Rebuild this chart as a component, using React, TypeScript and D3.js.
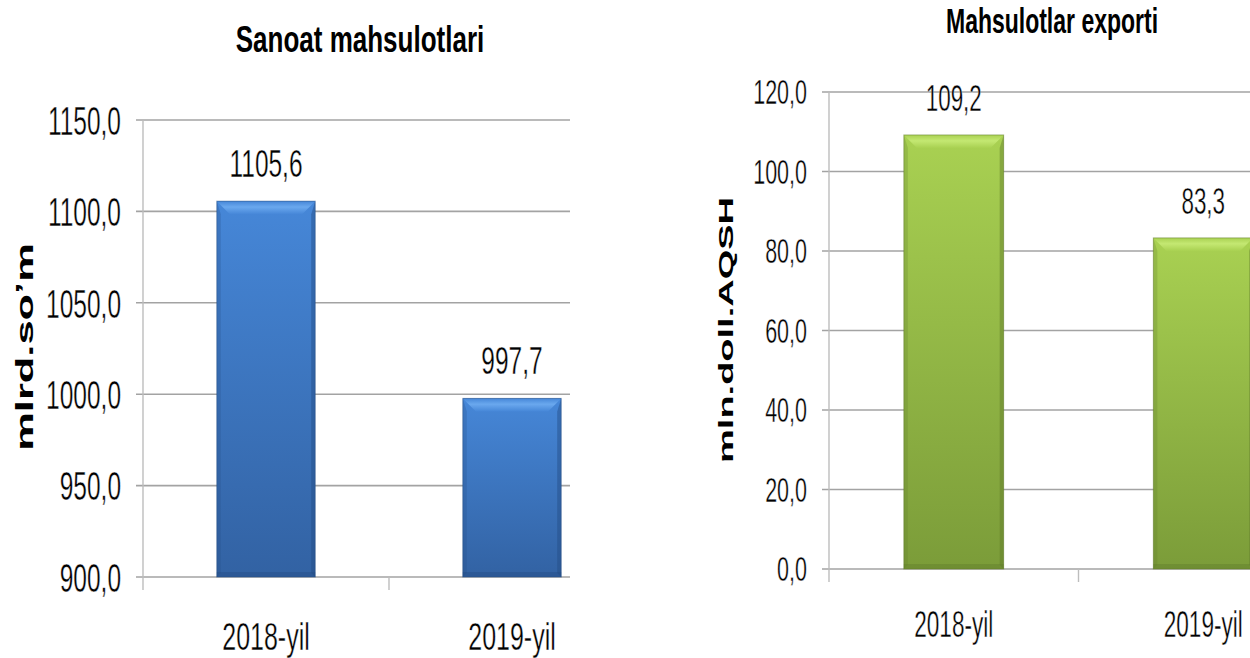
import { useEffect, useRef } from 'react';
import * as d3 from 'd3';

const categories = ['2018-yil', '2019-yil'];

const sanoatValues = [1105.6, 997.7];
const sanoatTicks = [900, 950, 1000, 1050, 1100, 1150];

const exportValues = [109.2, 83.3];
const exportTicks = [0, 20, 40, 60, 80, 100, 120];

const fmt = (v) => d3.format('.1f')(v).replace('.', ',');

// layout for the two panels (text is narrow and tall in the source, so each text gets a y stretch k)
const panels = [
  {
    key: 'sanoat',
    title: 'Sanoat mahsulotlari',
    yLabel: 'mlrd.so’m',
    values: sanoatValues,
    ticks: sanoatTicks,
    left: 143, right: 635, clip: 570, top: 120, bottom: 577,
    titleX: 360, titleY: 52, titleSize: 26, titleK: 1.43,
    yLabelX: 33, yLabelY: 347, yLabelSize: 24, yLabelK: 1.81,
    tickSize: 24.5, tickK: 1.68,
    catSize: 25, catK: 1.55, catY: 650,
    valSize: 24.5, valK: 1.55,
    colors: { hi: '#6aa8ee', top: '#4687d8', bottom: '#3262a3', edge: '#244c82' },
  },
  {
    key: 'export',
    title: 'Mahsulotlar exporti',
    yLabel: 'mln.doll.AQSH',
    values: exportValues,
    ticks: exportTicks,
    left: 829, right: 1328, clip: 1250, top: 92, bottom: 569,
    titleX: 1052, titleY: 33, titleSize: 23, titleK: 1.52,
    yLabelX: 733, yLabelY: 330, yLabelSize: 21, yLabelK: 1.81,
    tickSize: 21.5, tickK: 1.62,
    catSize: 22.6, catK: 1.67, catY: 637,
    valSize: 22.4, valK: 1.68,
    colors: { hi: '#c4e872', top: '#a9d152', bottom: '#7b9c39', edge: '#5f7a2a' },
  },
];

const FONT = "'Liberation Sans', Arial, sans-serif";

const drawText = (g, text, x, y, size, k, anchor = 'middle', weight = 'normal') => {
  const t = g.append('text')
    .attr('transform', `translate(${x},${y}) scale(1,${k})`)
    .attr('text-anchor', anchor)
    .attr('font-family', FONT)
    .attr('font-size', size)
    .attr('font-weight', weight)
    .attr('fill', '#000')
    .text(text);
  // the source uses a narrow, thin face: shave the glyph edges a little
  if (weight === 'normal') t.attr('stroke', '#fff').attr('stroke-width', 0.25);
  return t;
};

const App = () => {
  const svgRef = useRef(null);

  useEffect(() => {
    const svg = d3.select(svgRef.current);
    svg.selectAll('*').remove();
    const defs = svg.append('defs');

    panels.forEach((p) => {
      const x = d3.scaleBand().domain(categories).range([p.left, p.right]).padding(0);
      const y = d3.scaleLinear().domain([p.ticks[0], p.ticks[p.ticks.length - 1]]).range([p.bottom, p.top]);
      const barW = x.bandwidth() * 0.4;
      const base = y(p.ticks[0]);

      const grad = defs.append('linearGradient').attr('id', `bar-${p.key}`)
        .attr('x1', 0).attr('y1', 0).attr('x2', 0).attr('y2', 1);
      grad.append('stop').attr('offset', '0%').attr('stop-color', p.colors.top);
      grad.append('stop').attr('offset', '100%').attr('stop-color', p.colors.bottom);

      const hiGrad = defs.append('linearGradient').attr('id', `hi-${p.key}`)
        .attr('x1', 0).attr('y1', 0).attr('x2', 0).attr('y2', 1);
      hiGrad.append('stop').attr('offset', '0%').attr('stop-color', p.colors.top);
      hiGrad.append('stop').attr('offset', '45%').attr('stop-color', p.colors.hi);
      hiGrad.append('stop').attr('offset', '100%').attr('stop-color', p.colors.top);

      defs.append('clipPath').attr('id', `clip-${p.key}`)
        .append('rect').attr('x', 0).attr('y', 0).attr('width', p.clip).attr('height', 658);

      const g = svg.append('g').attr('clip-path', `url(#clip-${p.key})`);

      // gridlines + y ticks
      g.selectAll('.grid').data(p.ticks).enter().append('line')
        .attr('x1', p.left - 7).attr('x2', p.right)
        .attr('y1', (d) => y(d)).attr('y2', (d) => y(d))
        .attr('stroke', '#a3a3a3').attr('stroke-width', 1.6);

      // y axis line
      g.append('line')
        .attr('x1', p.left).attr('x2', p.left)
        .attr('y1', p.top).attr('y2', base + 13)
        .attr('stroke', '#bdbdbd').attr('stroke-width', 1.4);

      // category separators
      g.selectAll('.ctick').data(categories.slice(1)).enter().append('line')
        .attr('x1', (d) => x(d)).attr('x2', (d) => x(d))
        .attr('y1', base).attr('y2', base + 13)
        .attr('stroke', '#bdbdbd').attr('stroke-width', 1.4);

      // bars
      const bars = g.selectAll('.bar').data(p.values).enter().append('g');
      const bx = (d, i) => x(categories[i]) + (x.bandwidth() - barW) / 2;

      bars.append('rect')
        .attr('x', bx).attr('y', (d) => y(d))
        .attr('width', barW).attr('height', (d) => base - y(d))
        .attr('fill', `url(#bar-${p.key})`);

      const b = 13;
      bars.append('polygon')
        .attr('points', (d, i) => {
          const x0 = bx(d, i), x1 = x0 + barW, y0 = y(d);
          return [[x0, y0], [x1, y0], [x1 - b, y0 + b], [x0 + b, y0 + b]].join(' ');
        })
        .attr('fill', `url(#hi-${p.key})`);

      bars.append('polygon')
        .attr('points', (d, i) => {
          const x0 = bx(d, i), y0 = y(d);
          return [[x0, y0], [x0 + 4, y0 + b], [x0 + 4, base - 4], [x0, base]].join(' ');
        })
        .attr('fill', p.colors.edge).attr('opacity', 0.25);

      bars.append('polygon')
        .attr('points', (d, i) => {
          const x1 = bx(d, i) + barW, y0 = y(d);
          return [[x1, y0], [x1 - 4, y0 + b], [x1 - 4, base - 4], [x1, base]].join(' ');
        })
        .attr('fill', p.colors.edge).attr('opacity', 0.45);

      bars.append('rect')
        .attr('x', bx).attr('y', base - 5)
        .attr('width', barW).attr('height', 5)
        .attr('fill', p.colors.edge).attr('opacity', 0.4);

      bars.append('rect')
        .attr('x', bx).attr('y', (d) => y(d))
        .attr('width', barW).attr('height', (d) => base - y(d))
        .attr('fill', 'none').attr('stroke', p.colors.edge).attr('stroke-opacity', 0.5).attr('stroke-width', 1);

      // tick labels
      p.ticks.forEach((t) => {
        drawText(g, fmt(t), p.left - 22, y(t) + (0.716 * p.tickSize * p.tickK) / 2, p.tickSize, p.tickK, 'end');
      });

      // category labels
      categories.forEach((c) => {
        drawText(g, c, x(c) + x.bandwidth() / 2, p.catY, p.catSize, p.catK);
      });

      // value labels
      p.values.forEach((v, i) => {
        drawText(g, fmt(v), x(categories[i]) + x.bandwidth() / 2, y(v) - 24, p.valSize, p.valK);
      });

      // title
      drawText(svg, p.title, p.titleX, p.titleY, p.titleSize, p.titleK, 'middle', 'bold');

      // y axis title
      svg.append('text')
        .attr('transform', `translate(${p.yLabelX},${p.yLabelY}) rotate(-90) scale(${p.yLabelK},1)`)
        .attr('text-anchor', 'middle')
        .attr('font-family', FONT)
        .attr('font-size', p.yLabelSize)
        .attr('font-weight', 'bold')
        .attr('fill', '#000')
        .text(p.yLabel);
    });
  }, []);

  return (
    <svg
      ref={svgRef}
      width={1250}
      height={658}
      style={{ position: 'fixed', left: 0, top: 0, background: '#fff' }}
    ></svg>
  );
};

export default App;
